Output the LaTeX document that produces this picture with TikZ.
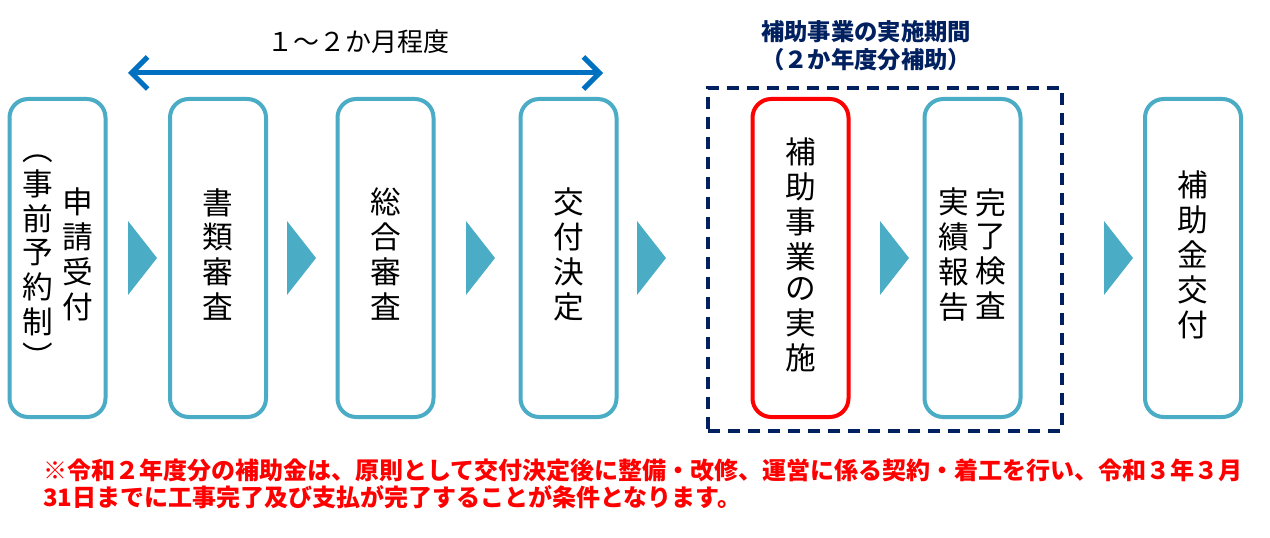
\documentclass[tikz,border=0pt]{standalone}
\usepackage{fontspec}
\setmainfont{Noto Sans CJK JP}
\usetikzlibrary{positioning,arrows.meta}
\definecolor{flowblue}{HTML}{4BACC6}
\definecolor{kikannavy}{HTML}{002060}
\definecolor{yajirushi}{HTML}{0070C0}
\newcommand{\tate}[1]{$\vcenter{\hbox{\begin{tabular}{@{}c@{}}#1\end{tabular}}}$}

\begin{document}
\begin{tikzpicture}[x=0.75pt,y=-0.75pt,
		stepbox/.style={draw=flowblue,line width=3pt,rounded corners=14pt,fill=white,minimum width=72pt,minimum height=238.5pt,inner sep=0pt,font=\fontsize{23pt}{23pt}\selectfont},
		chev/.style={fill=flowblue}]
		\fill[white] (0,0) rectangle (1270,538);
		\useasboundingbox (0,0) rectangle (1270,538);
%		\draw[step=10,gray!20] (0,0) grid (1270,538);
		\node[draw=kikannavy,line width=3pt,dash pattern=on 9pt off 6pt,minimum width=265.5pt,minimum height=257.25pt,inner sep=0pt] (kikan) at (884.5,259.5) {};
		\node[stepbox] (uketsuke) at (57.5,258) {\tate{︵\\事\\前\\予\\約\\制\\︶}\hspace{7pt}\tate{申\\請\\受\\付}};
		\node[stepbox] (shorui) at (218,258) {\tate{書\\類\\審\\査}};
		\node[stepbox] (sougou) at (385.5,258) {\tate{総\\合\\審\\査}};
		\node[stepbox] (kettei) at (568.5,258) {\tate{交\\付\\決\\定}};
		\node[stepbox,draw=red] (jisshi) at (800.5,258) {\tate{補\\助\\事\\業\\の\\実\\施}};
		\node[stepbox] (kanryou) at (972.5,258) {\tate{実\\績\\報\\告}\hspace{5pt}\tate{完\\了\\検\\査}};
		\node[stepbox] (koufukin) at (1193,258) {\tate{補\\助\\金\\交\\付}};
		\foreach \x in {128,287,466,637,880,1104}
			\fill[chev] (\x,221) -- (\x+29,258) -- (\x,295) -- cycle;
		\coordinate (tsukiL) at (128,73);
		\coordinate (tsukiR) at (603,73);
		\draw[yajirushi,line width=3.75pt,{Straight Barb[length=12pt,width=24pt]}-{Straight Barb[length=12pt,width=24pt]}] (tsukiL) -- (tsukiR);
		\node[font=\fontsize{19.5pt}{19.5pt}\selectfont] (tsuki) at (358,42) {１～２か月程度};
		\node[font=\fontsize{17.5pt}{21pt}\selectfont\bfseries,text=kikannavy,align=center] (kikanlabel) at (866,46) {補助事業の実施期間\\（２か年度分補助）};
		\node[font=\fontsize{18pt}{20.25pt}\selectfont\bfseries,text=red,align=left,anchor=west,inner sep=0pt] (chuui) at (43,484) {※令和２年度分の補助金は、原則として交付決定後に整備・改修、運営に係る契約・着工を行い、令和３年３月\\31日までに工事完了及び支払が完了することが条件となります。};
	\end{tikzpicture}
\end{document}
